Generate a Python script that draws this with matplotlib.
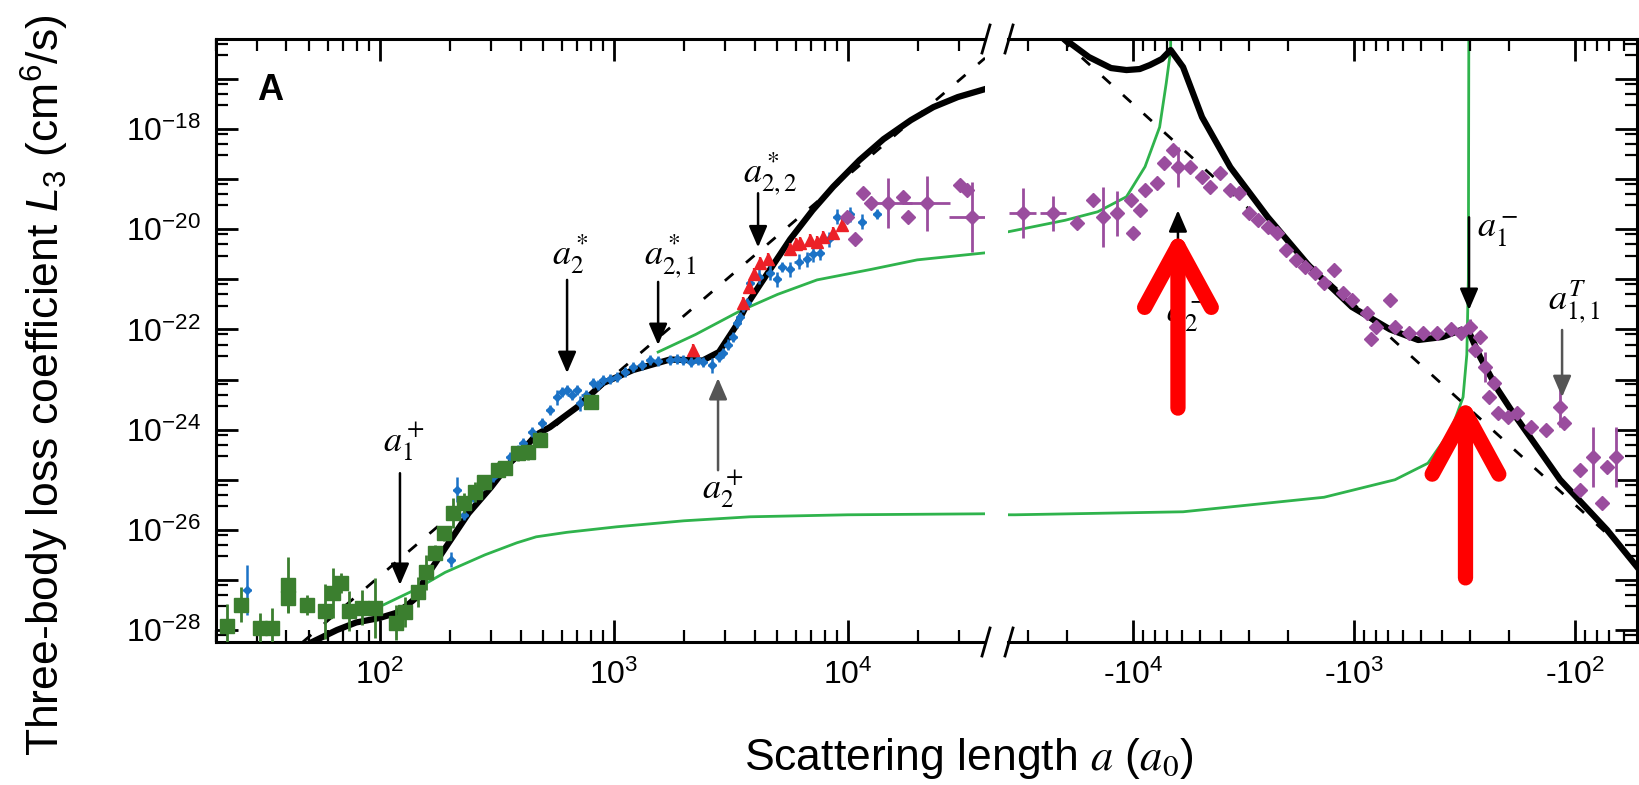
import numpy as np
import matplotlib.pyplot as plt
from matplotlib.ticker import FixedLocator, LogLocator, NullFormatter, FuncFormatter
from matplotlib.lines import Line2D

plt.rcParams['font.family'] = ['Liberation Sans', 'DejaVu Sans']
plt.rcParams['mathtext.fontset'] = 'custom'
plt.rcParams['mathtext.rm'] = 'Liberation Sans'
plt.rcParams['mathtext.it'] = 'Liberation Sans:italic'
plt.rcParams['mathtext.bf'] = 'Liberation Sans:bold'

# ---- data (log10 of L3 in cm^6/s) ----
# a > 0 side
green_a = [22.2, 25.7, 30.9, 34.6, 40.6, 40.6, 48.9, 58.5, 63.3, 68.6,
           74, 84, 96, 118, 128, 146, 158, 173, 189, 206,
           229, 255, 280, 320, 345, 390, 430, 485, 800]
green_logL = [-27.93, -27.5, -27.96, -27.96, -27.1, -27.36, -27.5, -27.63, -27.26, -27.07,
              -27.63, -27.56, -27.56, -27.86, -27.64, -27.24, -26.85, -26.46, -26.07, -25.67,
              -25.47, -25.25, -25.05, -24.8, -24.77, -24.47, -24.45, -24.2, -23.45]
green_err = [0.45, 0.35, 0.3, 0.4, 0.55, 0.3, 0.2, 0.55, 0.5, 0.2,
             0.4, 0.35, 0.6, 0.35, 0.3, 0.3, 0.35, 0.15, 0.15, 0.3,
             0.2, 0.2, 0.15, 0.15, 0.1, 0.15, 0.15, 0.15, 0.1]

blue_loga = [1.432, 2.305, 2.33, 2.36, 2.40, 2.44, 2.484, 2.52, 2.557, 2.59,
             2.613, 2.65, 2.694, 2.728, 2.758, 2.78, 2.80, 2.82, 2.844, 2.857,
             2.88, 2.912, 2.935, 2.955, 2.985, 3.015, 3.05, 3.083, 3.12, 3.156,
             3.19, 3.241, 3.27, 3.297, 3.33, 3.36, 3.383, 3.42, 3.45, 3.468,
             3.49, 3.51, 3.527, 3.54, 3.554, 3.57, 3.583, 3.62, 3.668, 3.698,
             3.72, 3.754, 3.79, 3.826, 3.85, 3.88, 3.92, 3.953, 4.01, 4.06, 4.126]
blue_logL = [-27.2, -26.6, -25.2, -25.7, -25.35, -25.1, -24.95, -24.75, -24.55, -24.4,
             -24.27, -24.05, -23.87, -23.61, -23.35, -23.25, -23.2, -23.3, -23.2, -23.47,
             -23.3, -23.07, -23.1, -23.01, -22.98, -22.95, -22.85, -22.75, -22.7, -22.61,
             -22.62, -22.61, -22.58, -22.61, -22.64, -22.6, -22.65, -22.71, -22.55, -22.47,
             -22.3, -22.15, -21.87, -21.75, -21.55, -21.47, -21.07, -20.95, -20.87, -21.0,
             -20.75, -20.8, -20.65, -20.6, -20.5, -20.47, -20.2, -19.75, -19.7, -19.85, -19.7]
blue_err = [0.5, 0.15, 0.25, 0.1, 0.1, 0.1, 0.1, 0.1, 0.1, 0.1,
            0.1, 0.1, 0.1, 0.1, 0.15, 0.1, 0.1, 0.1, 0.1, 0.15,
            0.1, 0.1, 0.1, 0.1, 0.1, 0.1, 0.1, 0.1, 0.1, 0.1,
            0.1, 0.1, 0.1, 0.1, 0.1, 0.1, 0.1, 0.15, 0.1, 0.1,
            0.1, 0.1, 0.1, 0.1, 0.1, 0.1, 0.1, 0.15, 0.15, 0.15,
            0.1, 0.15, 0.15, 0.15, 0.15, 0.15, 0.15, 0.15, 0.15, 0.15, 0.1]

red_loga = [3.34, 3.553, 3.58, 3.60, 3.626, 3.66, 3.754, 3.78, 3.797, 3.84,
            3.87, 3.895, 3.938, 3.977]
red_logL = [-22.41, -21.47, -21.15, -20.9, -20.67, -20.6, -20.4, -20.3, -20.28, -20.22,
            -20.25, -20.16, -20.08, -19.92]

purpleL_loga = [3.997, 4.03, 4.066, 4.10, 4.173, 4.237, 4.258, 4.339, 4.48, 4.51, 4.531]
purpleL_logL = [-19.75, -20.2, -19.28, -19.48, -19.48, -19.36, -19.75, -19.48, -19.12, -19.22, -19.75]
purpleL_err = [0.1, 0.1, 0.1, 0.1, 0.5, 0.1, 0.1, 0.55, 0.1, 0.1, 0.7]
purpleL_xerr = [0.0, 0.0, 0.0, 0.0, 0.1, 0.0, 0.0, 0.1, 0.0, 0.0, 0.1]

# a < 0 side, stored as log10|a|
purpleR_loga = [4.50, 4.362, 4.254, 4.18, 4.136, 4.073, 4.01, 4.0, 3.97, 3.946,
                3.89, 3.86, 3.82, 3.797, 3.742, 3.69, 3.65, 3.607, 3.56, 3.52,
                3.476, 3.435, 3.39, 3.35, 3.31, 3.263, 3.22, 3.177, 3.136, 3.09,
                3.05, 3.01, 2.94, 2.9, 2.838, 2.924, 2.815, 2.75, 2.688, 2.625,
                2.56, 2.516, 2.476, 2.453, 2.43, 2.41, 2.39, 2.366, 2.35, 2.303,
                2.263, 2.2, 2.13, 2.068, 2.05, 1.98, 1.98, 1.92, 1.88, 1.856, 1.815]
purpleR_logL = [-19.68, -19.68, -19.88, -19.42, -19.75, -19.68, -19.42, -20.08, -19.62, -19.22,
                -19.08, -18.68, -18.42, -18.75, -18.75, -18.95, -19.15, -18.88, -19.22, -19.28,
                -19.68, -19.82, -19.95, -20.08, -20.42, -20.62, -20.75, -20.87, -21.07, -20.82,
                -21.27, -21.41, -21.67, -21.95, -21.41, -22.2, -21.95, -22.07, -22.07, -22.07,
                -22.0, -22.07, -21.95, -22.41, -22.15, -22.75, -23.35, -23.07, -23.67, -23.75,
                -23.67, -23.95, -24.0, -23.55, -23.87, -24.8, -25.2, -24.55, -25.47, -24.75, -24.55]
purpleR_err = [0.5, 0.35, 0.1, 0.1, 0.6, 0.45, 0.1, 0.1, 0.1, 0.1,
               0.1, 0.1, 0.1, 0.4, 0.1, 0.1, 0.1, 0.1, 0.1, 0.1,
               0.1, 0.1, 0.1, 0.1, 0.1, 0.1, 0.1, 0.1, 0.1, 0.1,
               0.1, 0.1, 0.1, 0.1, 0.1, 0.1, 0.1, 0.1, 0.1, 0.1,
               0.1, 0.1, 0.15, 0.1, 0.1, 0.3, 0.1, 0.1, 0.1, 0.1,
               0.1, 0.1, 0.1, 0.4, 0.1, 0.1, 0.1, 0.6, 0.1, 0.1, 0.6]
purpleR_xerr = [0.06, 0.06, 0.0, 0.0, 0.0, 0.0, 0.0, 0.0, 0.0, 0.0,
                0.0, 0.0, 0.0, 0.0, 0.0, 0.0, 0.0, 0.0, 0.0, 0.0,
                0.0, 0.0, 0.0, 0.0, 0.0, 0.0, 0.0, 0.0, 0.0, 0.0,
                0.0, 0.0, 0.0, 0.0, 0.0, 0.0, 0.0, 0.0, 0.0, 0.0,
                0.0, 0.0, 0.0, 0.0, 0.0, 0.0, 0.0, 0.0, 0.0, 0.0,
                0.0, 0.0, 0.0, 0.0, 0.0, 0.0, 0.0, 0.0, 0.0, 0.0, 0.0]

# theory curves
blackL_loga = [1.703, 1.818, 1.9, 2.0, 2.07, 2.12, 2.16, 2.19, 2.284, 2.38,
               2.476, 2.55, 2.613, 2.67, 2.728, 2.844, 2.955, 3.083, 3.24, 3.38,
               3.45, 3.52, 3.57, 3.626, 3.754, 3.85, 3.938, 4.05, 4.153, 4.27,
               4.366, 4.47, 4.587]
blackL_logL = [-28.26, -28.0, -27.85, -27.76, -27.66, -27.5, -27.34, -27.0, -26.34, -25.67,
               -25.15, -24.7, -24.4, -24.1, -23.95, -23.55, -23.07, -22.81, -22.6, -22.62,
               -22.45, -21.95, -21.5, -21.1, -20.2, -19.62, -19.15, -18.62, -18.2, -17.82,
               -17.56, -17.36, -17.2]
blackR_loga = [4.31, 4.2, 4.1, 4.03, 3.97, 3.924, 3.87, 3.83, 3.774, 3.688,
               3.56, 3.39, 3.2, 3.01, 2.837, 2.71, 2.6, 2.516, 2.48, 2.43,
               2.35, 2.28, 2.068, 1.856, 1.72]
blackR_logL = [-16.2, -16.56, -16.78, -16.82, -16.8, -16.72, -16.6, -16.42, -16.76, -17.76,
               -18.76, -19.76, -20.75, -21.55, -22.0, -22.21, -22.15, -22.01, -22.05, -22.55,
               -23.2, -23.67, -25.0, -26.0, -26.74]
dashL_loga = [1.672, 4.587]
dashL_logL = [-28.24, -16.58]
dashR_loga = [4.325, 1.845]
dashR_logL = [-16.2, -26.12]

gL1_loga = [1.85, 2.016, 2.15, 2.28, 2.45, 2.586, 2.669, 2.8, 3.013, 3.3, 3.583, 4.0, 4.587]
gL1_logL = [-27.75, -27.5, -27.2, -26.85, -26.5, -26.26, -26.14, -26.05, -25.94, -25.82, -25.74, -25.7, -25.68]
gL2_loga = [3.19, 3.35, 3.54, 3.7, 3.869, 4.1, 4.297, 4.587]
gL2_logL = [-22.45, -22.1, -21.63, -21.3, -21.01, -20.8, -20.61, -20.47]
gR1_loga = [4.566, 4.534, 3.774, 3.136, 2.815, 2.666, 2.56, 2.507, 2.49, 2.483, 2.481]
gR1_logL = [-25.7, -25.7, -25.64, -25.35, -25.0, -24.67, -24.0, -23.35, -22.5, -21.0, -16.2]
gR2_loga = [4.566, 4.532, 4.308, 4.16, 4.03, 3.946, 3.88, 3.85, 3.83, 3.83]
gR2_logL = [-20.05, -20.02, -19.82, -19.65, -19.35, -18.75, -17.96, -17.08, -16.42, -16.2]

C_GREEN_PT = '#3b7f2f'
C_BLUE = '#1b72c6'
C_RED = '#ec2027'
C_PURPLE = '#9a4d9e'
C_GREEN_LN = '#2fb34c'


def P(v):
    return 10.0 ** np.asarray(v, dtype=float)


def logerr(logv, e):
    v = P(logv)
    e = np.asarray(e, dtype=float)
    return [v * (1 - 10.0 ** -e), v * (10.0 ** e - 1)]


W, H = 1639, 785
fig = plt.figure(figsize=(W / 100, H / 100), dpi=100)
axL = fig.add_axes([216 / W, 143 / H, 769 / W, 603 / H])
axR = fig.add_axes([1008 / W, 143 / H, 629 / W, 603 / H])

for ax in (axL, axR):
    ax.set_xscale('log')
    ax.set_yscale('log')
    ax.set_ylim(10 ** -28.24, 10 ** -16.2)
    for s in ax.spines.values():
        s.set_linewidth(2.2)
    ax.yaxis.set_major_locator(FixedLocator(10.0 ** np.arange(-28, -16)))
    ax.yaxis.set_minor_locator(LogLocator(base=10, subs=(3.0, 5.0, 8.0), numticks=40))
    ax.yaxis.set_minor_formatter(NullFormatter())
    ax.xaxis.set_minor_locator(LogLocator(base=10, subs=np.arange(2, 10), numticks=40))
    ax.xaxis.set_minor_formatter(NullFormatter())
    ax.tick_params(which='major', direction='in', length=16, width=2, labelsize=23)
    ax.tick_params(which='minor', direction='in', length=8.5, width=1.6)
    ax.tick_params(axis='x', pad=13)
    ax.tick_params(axis='y', pad=11)

axL.set_xlim(20, 38600)
axL.xaxis.set_major_locator(FixedLocator([1e2, 1e3, 1e4]))
axL.xaxis.set_major_formatter(FuncFormatter(lambda v, p: '$10^{%d}$' % round(np.log10(v))))
axL.yaxis.set_major_formatter(FuncFormatter(
    lambda v, p: '$10^{%d}$' % round(np.log10(v)) if round(np.log10(v)) % 2 == 0 else ''))
axL.spines['right'].set_visible(False)
axL.tick_params(which='both', top=True, right=False)

axR.set_xlim(10 ** 4.566, 10 ** 1.72)
axR.xaxis.set_major_locator(FixedLocator([1e4, 1e3, 1e2]))
axR.xaxis.set_major_formatter(FuncFormatter(lambda v, p: '-$10^{%d}$' % round(np.log10(v))))
axR.spines['left'].set_visible(False)
axR.tick_params(which='both', top=True, right=True, left=False, labelleft=False)

# theory lines
axL.plot(P(gL1_loga), P(gL1_logL), color=C_GREEN_LN, lw=2, zorder=1)
axL.plot(P(gL2_loga), P(gL2_logL), color=C_GREEN_LN, lw=2, zorder=1)
axR.plot(P(gR1_loga), P(gR1_logL), color=C_GREEN_LN, lw=2, zorder=1)
axR.plot(P(gR2_loga), P(gR2_logL), color=C_GREEN_LN, lw=2, zorder=1)
axL.plot(P(dashL_loga), P(dashL_logL), color='black', lw=2, ls=(0, (4, 6)), zorder=1)
axR.plot(P(dashR_loga), P(dashR_logL), color='black', lw=2, ls=(0, (4, 6)), zorder=1)
axL.plot(P(blackL_loga), P(blackL_logL), color='black', lw=4.5, zorder=2)
axR.plot(P(blackR_loga), P(blackR_logL), color='black', lw=4.5, zorder=2)

# data
axL.errorbar(P(blue_loga), P(blue_logL), yerr=logerr(blue_logL, blue_err),
             xerr=[P(blue_loga) * 0.04, P(blue_loga) * 0.04], fmt='D', ms=4.5,
             color=C_BLUE, elinewidth=1.8, capsize=0, zorder=3)
axL.errorbar(green_a, P(green_logL), yerr=logerr(green_logL, green_err), fmt='s', ms=10,
             color=C_GREEN_PT, elinewidth=2, capsize=0, zorder=4)
axL.errorbar(P(red_loga), P(red_logL), yerr=logerr(red_logL, [0.12] * len(red_loga)),
             fmt='^', ms=9, color=C_RED, elinewidth=1.6, capsize=0, zorder=4)
axL.errorbar(P(purpleL_loga), P(purpleL_logL), yerr=logerr(purpleL_logL, purpleL_err),
             xerr=[P(purpleL_loga) * (1 - 10.0 ** -np.array(purpleL_xerr)),
                   P(purpleL_loga) * (10.0 ** np.array(purpleL_xerr) - 1)],
             fmt='D', ms=7.5, color=C_PURPLE, elinewidth=2, capsize=0, zorder=4)
axR.errorbar(P(purpleR_loga), P(purpleR_logL), yerr=logerr(purpleR_logL, purpleR_err),
             xerr=[P(purpleR_loga) * (1 - 10.0 ** -np.array(purpleR_xerr)),
                   P(purpleR_loga) * (10.0 ** np.array(purpleR_xerr) - 1)],
             fmt='D', ms=7.5, color=C_PURPLE, elinewidth=2, capsize=0, zorder=4)


# annotations
def arrow(ax, lx, ly0, ly1, color='black'):
    ax.annotate('', xy=(10 ** lx, 10 ** ly1), xytext=(10 ** lx, 10 ** ly0),
                arrowprops=dict(arrowstyle='-|>,head_length=0.65,head_width=0.28', color=color,
                                lw=1.8, shrinkA=0, shrinkB=0, mutation_scale=20), zorder=6)


def label(ax, lx, ly, s):
    ax.text(10 ** lx, 10 ** ly, s, fontsize=26, math_fontfamily='stix',
            ha='center', va='center', zorder=6)


arrow(axL, 2.087, -24.87, -27.1)
label(axL, 2.104, -24.25, '$a_1^+$')
arrow(axL, 2.801, -21.01, -22.87)
label(axL, 2.814, -20.5, '$a_2^*$')
arrow(axL, 3.19, -21.05, -22.31)
label(axL, 3.241, -20.55, '$a_{2,1}^*$')
arrow(axL, 3.617, -19.28, -20.36)
label(axL, 3.669, -18.88, '$a_{2,2}^*$')
arrow(axL, 3.446, -24.81, -22.97, color='#555555')
label(axL, 3.468, -25.2, '$a_2^+$')

arrow(axR, 3.797, -21.0, -19.62)
label(axR, 3.756, -21.75, '$a_2^-$')
arrow(axR, 2.48, -19.76, -21.61)
label(axR, 2.35, -20.05, '$a_1^-$')
arrow(axR, 2.059, -22.01, -23.35, color='#555555')
label(axR, 2.005, -21.45, '$a_{1,1}^T$')

axL.text(0.07, 0.915, 'A', transform=axL.transAxes, fontsize=26, fontweight='bold',
         ha='center', va='center')

# red highlight arrows
for lx, tip, tail in [(3.797, -20.02, -23.57), (2.496, -23.35, -26.96)]:
    axR.annotate('', xy=(10 ** lx, 10 ** tip), xytext=(10 ** lx, 10 ** tail),
                 arrowprops=dict(arrowstyle='->,head_length=1.1,head_width=0.6', color='red',
                                 lw=11, mutation_scale=40, shrinkA=0, shrinkB=0,
                                 capstyle='round', joinstyle='round'),
                 zorder=10, annotation_clip=False)

# axis break marks
for x0 in (986, 1009):
    for y0 in (39, 642):
        fig.add_artist(Line2D([(x0 - 4) / W, (x0 + 4) / W], [1 - (y0 + 14) / H, 1 - (y0 - 14) / H],
                              color='black', lw=2))

fig.text(1194 / W, 15 / H, 'Scattering length $a$ ($a_0$)', fontsize=32, ha='right',
         va='baseline', math_fontfamily='stix')
fig.text(45 / W, 0.509, 'Three-body loss coefficient $L_3$ (cm$^6$/s)', rotation=90,
         fontsize=32, ha='center', va='center')

fig.savefig('out.png', dpi=100)
